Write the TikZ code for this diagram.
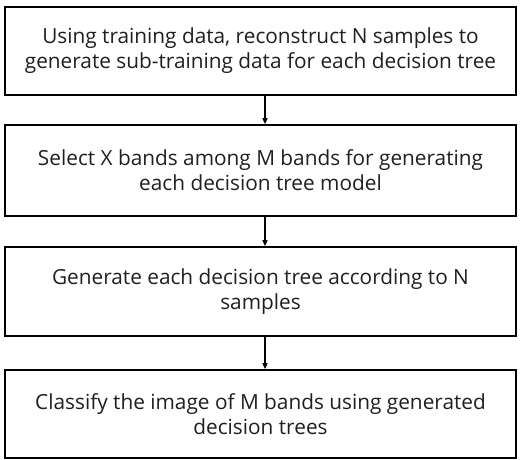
\documentclass[tikz,border=0pt]{standalone}
\usepackage{fontspec}
\setmainfont{Open Sans}
\usetikzlibrary{arrows.meta}
\begin{document}
\begin{tikzpicture}[x=1pt,y=-1pt,
  stepbox/.style={draw=black, line width=1.7pt, minimum width=511pt, align=center,
    font=\fontsize{20.8}{25}\selectfont, text=black!88, inner sep=0pt},
  flow/.style={-{Triangle[length=6pt,width=5pt]}, line width=1.3pt}]
\useasboundingbox (0,0) rectangle (525,460);
\node[stepbox, minimum height=88pt] (b1) at (260.5,51)
  {Using training data, reconstruct N samples to\\generate sub-training data for each decision tree};
\node[stepbox, minimum height=91pt] (b2) at (260.5,170.5)
  {Select X bands among M bands for generating\\each decision tree model};
\node[stepbox, minimum height=89pt] (b3) at (260.5,291.5)
  {Generate each decision tree according to N\\samples};
\node[stepbox, minimum height=88pt] (b4) at (260.5,414)
  {Classify the image of M bands using generated\\decision trees};
\coordinate (ax) at (265,0);
\draw[flow] (b1.south -| ax) -- (b2.north -| ax);
\draw[flow] (b2.south -| ax) -- (b3.north -| ax);
\draw[flow] (b3.south -| ax) -- (b4.north -| ax);
\end{tikzpicture}
\end{document}
